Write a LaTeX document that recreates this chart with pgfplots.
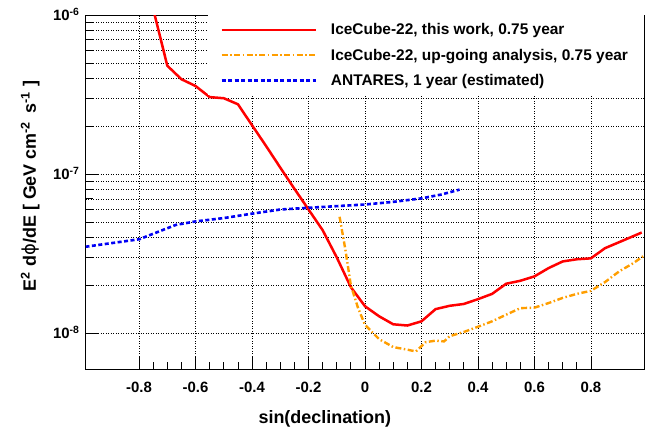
\documentclass[border=0pt]{standalone}
\usepackage{pgfplots}
\pgfplotsset{compat=1.18}
\usepackage{fontspec}
\setmainfont{Liberation Sans}
\newfontfamily\dejavu{DejaVu Sans}
\definecolor{rootorange}{RGB}{255,158,0}
\definecolor{rootblue}{RGB}{0,0,245}
\begin{document}
\begin{tikzpicture}
\useasboundingbox (-86bp,-60bp) rectangle (568bp,369bp);
\begin{axis}[
  scale only axis,
  width=558bp, height=354bp,
  at={(0,0)}, anchor=south west,
  ymode=log,
  xmin=-0.988, xmax=0.988,
  ymin=5.97e-9, ymax=1e-6,
  axis line style={line width=1bp},
  tick align=inside,
  xtick pos=lower, ytick pos=left,
  xtick={-0.8,-0.6,-0.4,-0.2,0,0.2,0.4,0.6,0.8},
  xticklabels={-0.8,-0.6,-0.4,-0.2,0,0.2,0.4,0.6,0.8},
  minor x tick num=3,
  ytick={1e-8,1e-7,1e-6},
  yticklabels={10\textsuperscript{-8},10\textsuperscript{-7},10\textsuperscript{-6}},
  major tick length=13bp, minor tick length=7bp,
  tick style={line width=0.8bp, black},
  xmajorgrids, ymajorgrids, yminorgrids,
  grid style={line width=0.5bp, black, dash pattern=on 0.8bp off 1.7bp},
  minor grid style={line width=0.5bp, black, dash pattern=on 0.8bp off 1.7bp},
  tick label style={font=\bfseries\fontsize{15}{18}\selectfont},
  xticklabel style={anchor=base, yshift=-23bp},
  yticklabel style={anchor=base east, yshift=-5.5bp, xshift=-3bp},
  xlabel={sin(declination)},
  ylabel={E\textsuperscript{2} d{\mdseries\dejavu ϕ}/dE [ GeV cm\textsuperscript{-2}\, s\textsuperscript{-1} ]},
  label style={font=\bfseries\fontsize{18}{21}\selectfont},
  xlabel style={at={(axis description cs:0.428,-0.141)}, anchor=center},
  ylabel style={at={(axis description cs:-0.1,0.517)}, anchor=center, rotate=0},
  legend style={at={(axis description cs:0.219,1)}, anchor=north west,
    draw=none, fill=white, inner xsep=12bp, inner ysep=6.5bp,
    font=\bfseries\fontsize{15.5}{18}\selectfont, row sep=8.5bp,
    nodes={inner xsep=4bp},
    /tikz/every odd column/.append style={column sep=10bp}},
  legend cell align=left,
  legend image code/.code={\draw[#1] (0bp,0bp) -- (94bp,0bp);},
  clip=true,
]
\addplot[red, line width=2.5bp] coordinates {
(-0.75,1.09e-6) (-0.70,4.8e-7) (-0.65,3.95e-7) (-0.60,3.58e-7) (-0.55,3.05e-7)
(-0.50,3.0e-7) (-0.45,2.75e-7) (-0.40,2.03e-7) (-0.35,1.50e-7) (-0.30,1.10e-7)
(-0.25,8.1e-8) (-0.20,6.0e-8) (-0.15,4.45e-8) (-0.10,3.0e-8) (-0.05,1.95e-8)
(0,1.48e-8) (0.05,1.28e-8) (0.10,1.14e-8) (0.15,1.12e-8) (0.20,1.19e-8)
(0.25,1.42e-8) (0.30,1.49e-8) (0.35,1.53e-8) (0.40,1.64e-8) (0.45,1.77e-8)
(0.50,2.05e-8) (0.55,2.14e-8) (0.60,2.28e-8) (0.65,2.57e-8) (0.70,2.83e-8)
(0.75,2.92e-8) (0.80,2.96e-8) (0.85,3.43e-8) (0.90,3.74e-8) (0.98,4.3e-8)
};
\addlegendentry{IceCube-22, this work, 0.75 year}
\addplot[rootorange, line width=2.4bp, dash pattern=on 6bp off 2.5bp on 1.5bp off 2.5bp] coordinates {
(-0.09,5.4e-8) (-0.07,3.4e-8) (-0.05,2.0e-8) (-0.025,1.45e-8) (0.0,1.13e-8)
(0.05,9.2e-9) (0.10,8.2e-9) (0.15,7.9e-9) (0.18,7.7e-9) (0.215,8.8e-9)
(0.25,9.0e-9) (0.28,8.9e-9) (0.30,9.6e-9) (0.35,1.02e-8) (0.40,1.10e-8)
(0.45,1.19e-8) (0.50,1.31e-8) (0.55,1.44e-8) (0.60,1.45e-8) (0.65,1.55e-8)
(0.70,1.67e-8) (0.75,1.77e-8) (0.80,1.85e-8) (0.85,2.1e-8) (0.90,2.45e-8)
(0.95,2.76e-8) (0.985,3.05e-8)
};
\addlegendentry{IceCube-22, up-going analysis, 0.75 year\hspace{28bp}}
\addplot[rootblue, line width=2.6bp, dash pattern=on 4bp off 2.5bp] coordinates {
(-0.99,3.5e-8) (-0.8,3.9e-8) (-0.67,4.8e-8) (-0.6,5.05e-8) (-0.5,5.3e-8)
(-0.4,5.65e-8) (-0.3,6.0e-8) (-0.2,6.15e-8) (-0.1,6.3e-8) (0,6.45e-8)
(0.1,6.7e-8) (0.2,7.05e-8) (0.27,7.45e-8) (0.335,8.0e-8)
};
\addlegendentry{ANTARES, 1 year (estimated)}
\end{axis}
\end{tikzpicture}
\end{document}
